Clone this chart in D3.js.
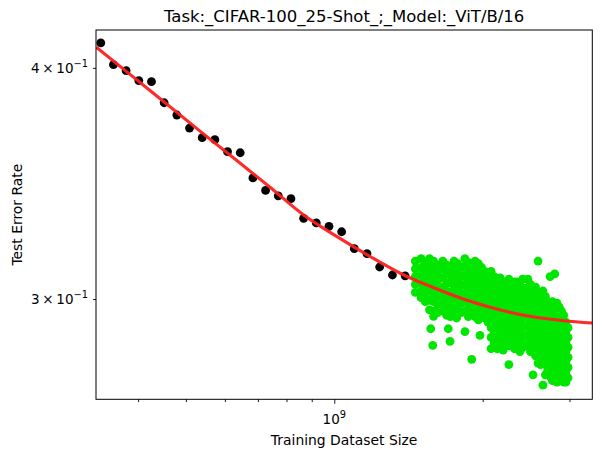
<!DOCTYPE html>
<html>
<head>
<meta charset="utf-8">
<script src="https://cdn.jsdelivr.net/npm/d3@7"></script>
<style>
  body { margin: 0; background: #fff; }
  svg { display: block; font-family: "DejaVu Sans", sans-serif; }
</style>
</head>
<body>
<svg id="chart" width="602" height="457"></svg>
<script>
// ---------- data ----------
const titleText = "Task:_CIFAR-100_25-Shot_;_Model:_ViT/B/16";
const xLabel = "Training Dataset Size";
const yLabel = "Test Error Rate";

// observed (black) points
const obsSize = [3.36e8, 3.565e8, 3.782e8, 4.013e8, 4.258e8, 4.518e8, 4.793e8, 5.086e8,
  5.396e8, 5.725e8, 6.074e8, 6.445e8, 6.838e8, 7.255e8, 7.698e8, 8.167e8, 8.665e8,
  9.194e8, 9.755e8, 1.035e9, 1.098e9, 1.165e9, 1.236e9, 1.312e9, 1.392e9];
const obsErr = [0.4126, 0.4016, 0.3986, 0.3937, 0.3932, 0.3830, 0.3772, 0.3711,
  0.3667, 0.3658, 0.3604, 0.3599, 0.3488, 0.3434, 0.3411, 0.3399, 0.3317,
  0.3298, 0.3284, 0.3262, 0.3194, 0.3174, 0.3122, 0.3091, 0.3088];

// extrapolation (green) points, grouped by dataset size (in units of 1e9)
const greenSize = [1.46, 1.50, 1.53, 1.56, 1.569, 1.584, 1.59, 1.62, 1.66, 1.69, 1.703, 1.717,
  1.72, 1.75, 1.771, 1.78, 1.81, 1.841, 1.84, 1.87, 1.90, 1.93, 1.96, 1.975, 1.99, 2.02, 2.05,
  2.08, 2.11, 2.14, 2.17, 2.20,
  2.23, 2.26, 2.29, 2.32, 2.35, 2.38, 2.41, 2.44, 2.47, 2.50, 2.53, 2.56, 2.59, 2.62,
  2.65, 2.68, 2.71, 2.74, 2.77, 2.80, 2.83, 2.86, 2.89, 2.92, 2.95, 2.98];
const greenErr = [
  [0.3145, 0.3115, 0.3085, 0.3055, 0.3025],
  [0.3155, 0.312, 0.309, 0.306, 0.303, 0.3005],
  [0.3145, 0.3115, 0.308, 0.305, 0.302, 0.299],
  [0.3155, 0.313, 0.310, 0.3065, 0.303, 0.2995, 0.296],
  [0.2891],
  [0.2832],
  [0.3145, 0.3115, 0.308, 0.305, 0.302, 0.299, 0.2955, 0.2936],
  [0.313, 0.310, 0.307, 0.304, 0.301, 0.298, 0.295],
  [0.3145, 0.3115, 0.308, 0.3045, 0.3015, 0.2985, 0.2955],
  [0.313, 0.3095, 0.306, 0.303, 0.300, 0.297, 0.294],
  [0.2891],
  [0.2846],
  [0.312, 0.309, 0.306, 0.3025, 0.2995, 0.2965, 0.2935],
  [0.3145, 0.3115, 0.308, 0.305, 0.3015, 0.298, 0.295],
  [0.2930],
  [0.3135, 0.310, 0.3065, 0.303, 0.300, 0.2965],
  [0.312, 0.3085, 0.305, 0.302, 0.2985, 0.295],
  [0.2881],
  [0.3155, 0.3125, 0.309, 0.3055, 0.302, 0.299, 0.2955],
  [0.314, 0.3105, 0.307, 0.3035, 0.300, 0.2965, 0.2935],
  [0.3125, 0.309, 0.3055, 0.302, 0.2985, 0.295, 0.2783],
  [0.3145, 0.3105, 0.307, 0.3035, 0.300, 0.2965, 0.2935],
  [0.3135, 0.3095, 0.306, 0.3025, 0.299, 0.2955, 0.2923],
  [0.2867],
  [0.312, 0.308, 0.3045, 0.301, 0.2975, 0.294],
  [0.3105, 0.307, 0.3035, 0.300, 0.2965, 0.293],
  [0.309, 0.3055, 0.302, 0.2985, 0.295, 0.2915],
  [0.3105, 0.307, 0.3035, 0.300, 0.2965, 0.293, 0.2895, 0.286, 0.282],
  [0.3085, 0.305, 0.3015, 0.298, 0.2945, 0.291, 0.2875, 0.284],
  [0.307, 0.3035, 0.300, 0.2965, 0.293, 0.2895, 0.286, 0.282],
  [0.308, 0.3045, 0.301, 0.2975, 0.294, 0.2905, 0.287, 0.2835],
  [0.3055, 0.302, 0.2985, 0.295, 0.2915, 0.288, 0.2845, 0.2815],
  [0.3065, 0.303, 0.2995, 0.296, 0.2925, 0.289, 0.2855],
  [0.3075, 0.304, 0.3005, 0.297, 0.2935, 0.290, 0.2865, 0.283, 0.2765],
  [0.305, 0.3015, 0.298, 0.2945, 0.291, 0.2875, 0.284],
  [0.3065, 0.303, 0.2995, 0.296, 0.2925, 0.289, 0.2855, 0.282],
  [0.3065, 0.3045, 0.301, 0.2975, 0.294, 0.2905, 0.287, 0.2835],
  [0.3055, 0.302, 0.2985, 0.295, 0.2915, 0.288, 0.2845, 0.281],
  [0.3075, 0.3035, 0.300, 0.2965, 0.293, 0.2895, 0.286, 0.2825],
  [0.304, 0.3005, 0.297, 0.2935, 0.290, 0.2865, 0.283],
  [0.3075, 0.3045, 0.301, 0.2975, 0.294, 0.2905, 0.287, 0.2835],
  [0.3055, 0.302, 0.2985, 0.295, 0.2915, 0.288, 0.2845, 0.281],
  [0.3035, 0.300, 0.2965, 0.293, 0.2895, 0.286, 0.2825, 0.273],
  [0.3045, 0.301, 0.2975, 0.294, 0.2905, 0.287, 0.2835, 0.2795],
  [0.3145, 0.3025, 0.299, 0.2955, 0.292, 0.2885, 0.285, 0.2815, 0.277],
  [0.301, 0.2975, 0.294, 0.2905, 0.287, 0.2835, 0.280, 0.2765],
  [0.303, 0.2995, 0.296, 0.2925, 0.289, 0.2855, 0.282, 0.2785, 0.2695],
  [0.301, 0.2975, 0.294, 0.2905, 0.287, 0.2835, 0.280, 0.2765, 0.273],
  [0.299, 0.2955, 0.292, 0.2885, 0.285, 0.2815, 0.278, 0.2745],
  [0.3085, 0.2975, 0.294, 0.2905, 0.287, 0.2835, 0.280, 0.2765, 0.2725],
  [0.299, 0.2955, 0.292, 0.2885, 0.285, 0.2815, 0.278, 0.2745, 0.271],
  [0.3095, 0.2975, 0.294, 0.2905, 0.287, 0.2835, 0.280, 0.2765, 0.273],
  [0.2985, 0.295, 0.2915, 0.288, 0.2845, 0.281, 0.2775, 0.274, 0.2705],
  [0.297, 0.2935, 0.290, 0.2865, 0.283, 0.2795, 0.276, 0.2725],
  [0.2955, 0.292, 0.2885, 0.285, 0.2815, 0.278, 0.2745, 0.271],
  [0.294, 0.2905, 0.287, 0.2835, 0.280, 0.2765, 0.273, 0.2705],
  [0.2915, 0.288, 0.2845, 0.281, 0.2775, 0.274, 0.2705],
  [0.2895, 0.286, 0.2825, 0.279, 0.2755, 0.272]
];

// fitted curve (red), read at sample positions
const fitSize = [3.291e8, 4.228e8, 5.341e8, 6.436e8, 7.406e8, 8.652e8, 1.011e9, 1.182e9,
  1.380e9, 1.564e9, 1.827e9, 2.135e9, 2.495e9, 2.914e9, 3.337e9];
const fitErr = [0.4104, 0.3889, 0.3697, 0.3553, 0.3448, 0.3332, 0.3243, 0.3163,
  0.3092, 0.3048, 0.3000, 0.2963, 0.2936, 0.2920, 0.2912];

// axes
const xDomain = [3.286e8, 3.337e9];
const yDomain = [0.2648, 0.4193];
const xMajorTicks = [1e9];
const xMinorTicks = [4e8, 5e8, 6e8, 7e8, 8e8, 9e8, 2e9, 3e9];
const yTicks = [0.3, 0.4];
const yTickMantissa = ["3", "4"];

// ---------- drawing ----------
const svg = d3.select("#chart");
const L = 96, R = 592.3, T = 30, B = 399.3;
const x = d3.scaleLog().domain(xDomain).range([L, R]);
const y = d3.scaleLog().domain(yDomain).range([B, T]);

const plot = svg.append("g");
plot.append("clipPath").attr("id", "clip")
  .append("rect").attr("x", L).attr("y", T).attr("width", R - L).attr("height", B - T);
const inner = plot.append("g").attr("clip-path", "url(#clip)");

// black observed points
inner.selectAll("circle.obs").data(obsSize.map((s, i) => [s, obsErr[i]]))
  .join("circle").attr("class", "obs")
  .attr("cx", d => x(d[0])).attr("cy", d => y(d[1])).attr("r", 4.4)
  .attr("fill", "#000");

// green points
const greenPts = [];
greenSize.forEach((s, i) => greenErr[i].forEach(e => greenPts.push([s * 1e9, e])));
inner.selectAll("circle.gr").data(greenPts)
  .join("circle").attr("class", "gr")
  .attr("cx", d => x(d[0])).attr("cy", d => y(d[1])).attr("r", 4.4)
  .attr("fill", "#00e600");

// red fitted line
const line = d3.line().x(d => x(d[0])).y(d => y(d[1])).curve(d3.curveCatmullRom);
inner.append("path").datum(fitSize.map((s, i) => [s, fitErr[i]]))
  .attr("d", line).attr("fill", "none").attr("stroke", "#ff2020")
  .attr("stroke-width", 3.1).attr("stroke-opacity", 0.95);

// frame
svg.append("rect").attr("x", L).attr("y", T).attr("width", R - L).attr("height", B - T)
  .attr("fill", "none").attr("stroke", "#000").attr("stroke-width", 1);

// x axis ticks
const xAxisMajor = d3.axisBottom(x).tickValues(xMajorTicks).tickSize(4.5).tickFormat("");
const xAxisMinor = d3.axisBottom(x).tickValues(xMinorTicks).tickSize(2.8).tickFormat("");
[xAxisMajor, xAxisMinor].forEach(ax => {
  const g = svg.append("g").attr("transform", `translate(0,${B})`).call(ax);
  g.select(".domain").remove();
  g.selectAll("line").attr("stroke", "#000").attr("stroke-width", 0.9);
});
const xt = svg.append("g");
xMajorTicks.forEach(v => {
  const t = xt.append("text").attr("x", x(v)).attr("y", 424)
    .attr("text-anchor", "middle").attr("font-size", 13.5).attr("fill", "#000");
  t.append("tspan").text("10");
  t.append("tspan").attr("dy", -6).attr("font-size", 9.8).text(String(Math.round(Math.log10(v))));
});

// y axis ticks
const yAxis = d3.axisLeft(y).tickValues(yTicks).tickSize(3).tickFormat("");
const gy = svg.append("g").attr("transform", `translate(${L},0)`).call(yAxis);
gy.select(".domain").remove();
gy.selectAll("line").attr("stroke", "#000").attr("stroke-width", 0.9);
yTicks.forEach((v, i) => {
  const t = svg.append("text").attr("x", 88).attr("y", y(v) + 4.7)
    .attr("text-anchor", "end").attr("font-size", 13.5).attr("fill", "#000");
  t.append("tspan").text(yTickMantissa[i] + "\u2009\u00d7\u200910");
  t.append("tspan").attr("dy", -6).attr("font-size", 9.8).text("\u22121");
});

// labels
svg.append("text").attr("x", (L + R) / 2).attr("y", 21.5).attr("text-anchor", "middle")
  .attr("font-size", 16.5).attr("fill", "#000").text(titleText);
svg.append("text").attr("x", (L + R) / 2).attr("y", 445).attr("text-anchor", "middle")
  .attr("font-size", 13.9).attr("fill", "#000").text(xLabel);
svg.append("text").attr("transform", `translate(22,${(T + B) / 2}) rotate(-90)`)
  .attr("text-anchor", "middle").attr("font-size", 13.9).attr("fill", "#000").text(yLabel);
</script>
</body>
</html>
